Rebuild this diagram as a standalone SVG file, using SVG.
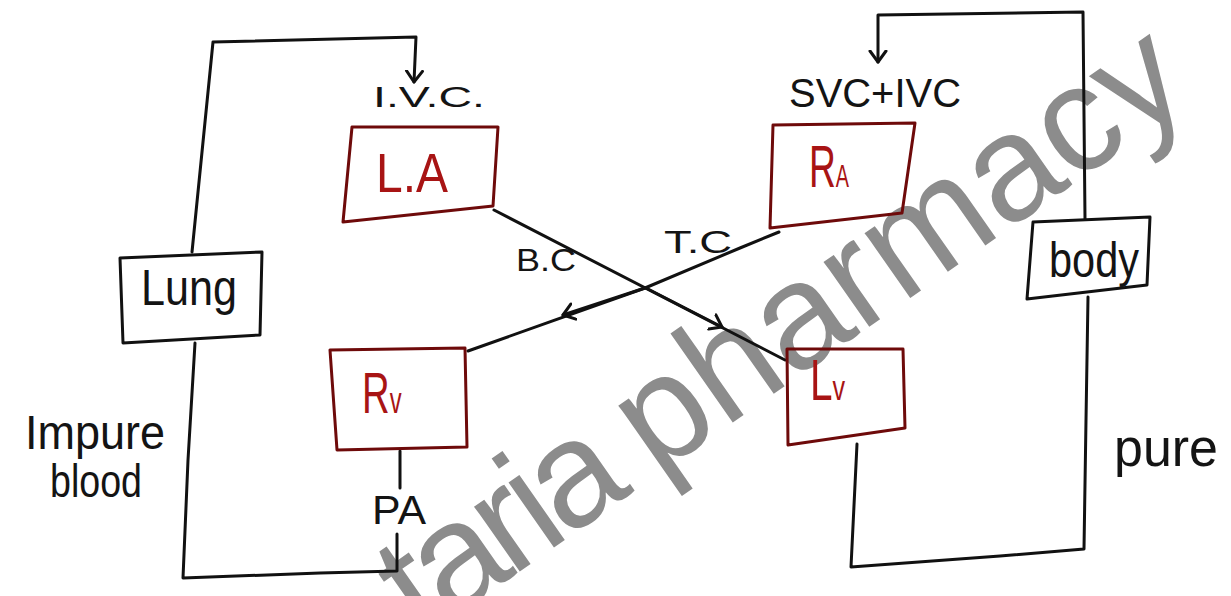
<svg xmlns="http://www.w3.org/2000/svg" width="1231" height="596" viewBox="0 0 1231 596">
  <defs>
    <style>
      .ink { fill: none; stroke: #111; stroke-width: 3; stroke-linecap: round; stroke-linejoin: round; }
      .chamber { fill: none; stroke: #6e0a0a; stroke-width: 3; stroke-linejoin: round; }
      .organ { fill: none; stroke: #111; stroke-width: 3; stroke-linejoin: round; }
      .hand { font-family: "Liberation Sans", "DejaVu Sans", sans-serif; fill: #141414; }
      .red { font-family: "Liberation Sans", "DejaVu Sans", sans-serif; fill: #a81414; }
      .mark { font-family: "Liberation Sans", Arial, sans-serif; fill: #8c8c8c; }
    </style>
    <!-- open V arrowhead, as drawn by pen -->
    <marker id="vhead" viewBox="-12 -10 14 20" markerWidth="14" markerHeight="20" refX="0" refY="0" orient="auto" markerUnits="userSpaceOnUse">
      <path d="M-11,-8 L0,0 L-11,8" fill="none" stroke="#111" stroke-width="3" stroke-linecap="round" stroke-linejoin="round"/>
    </marker>
  </defs>

  <rect width="1231" height="596" fill="#ffffff"/>

  <!-- watermark -->
  <text class="mark" x="422" y="640" font-size="150" transform="rotate(-35 422 640)"><tspan letter-spacing="-8">taria </tspan>pharmacy</text>

  <!-- connectors -->
  <g id="connectors">
    <!-- pulmonary vein: lung up and across into left atrium -->
    <path class="ink" d="M192,252 L213,42 L416,37 L414,82" marker-end="url(#vhead)"/>
    <!-- pulmonary artery: right ventricle down, round to lung -->
    <path class="ink" d="M400,451 L400,488"/>
    <path class="ink" d="M397,534 L397,571 L320,573 L183,578 L188,460 L195,343"/>
    <!-- vena cavae: body up and across into right atrium -->
    <path class="ink" d="M1085,219 L1083,12 L878,15 L878,62" marker-end="url(#vhead)"/>
    <!-- aorta: left ventricle down, round to body -->
    <path class="ink" d="M857,444 L851,567 L1000,556 L1084,549 L1086,420 L1088,297"/>
    <!-- bicuspid: left atrium to left ventricle -->
    <path class="ink" d="M494,210 L785,360"/>
    <path class="ink" d="M646,288 L722,327" marker-end="url(#vhead)"/>
    <!-- tricuspid: right atrium to right ventricle -->
    <path class="ink" d="M779,232 L740,248 L645,288 L468,351"/>
    <path class="ink" d="M645,288 L563,315" marker-end="url(#vhead)"/>
  </g>

  <!-- edge labels -->
  <g id="labels">
    <text class="hand" x="373" y="107" font-size="30" textLength="112" lengthAdjust="spacingAndGlyphs">I.V.C.</text>
    <text class="hand" x="789" y="107" font-size="40" textLength="172" lengthAdjust="spacingAndGlyphs">SVC+IVC</text>
    <text class="hand" x="516" y="271" font-size="32" textLength="60" lengthAdjust="spacingAndGlyphs">B.C</text>
    <text class="hand" x="664" y="253" font-size="32" textLength="68" lengthAdjust="spacingAndGlyphs">T.C</text>
    <text class="hand" x="372" y="524" font-size="40" textLength="54" lengthAdjust="spacingAndGlyphs">PA</text>
    <text class="hand" x="25" y="449" font-size="48" textLength="140" lengthAdjust="spacingAndGlyphs">Impure</text>
    <text class="hand" x="50" y="497" font-size="46" textLength="92" lengthAdjust="spacingAndGlyphs">blood</text>
    <text class="hand" x="1114" y="466" font-size="54" textLength="104" lengthAdjust="spacingAndGlyphs">pure</text>
  </g>

  <!-- nodes -->
  <g id="LA">
    <path class="chamber" d="M352,127 L498,127 L493,206 L343,222 Z"/>
    <text class="red" x="376" y="192" font-size="55" textLength="72" lengthAdjust="spacingAndGlyphs">L.A</text>
  </g>
  <g id="RA">
    <path class="chamber" d="M773,125 L915,123 L902,213 L770,228 Z"/>
    <text class="red" font-size="60" transform="translate(809 187) scale(0.62 1)">R<tspan font-size="32">A</tspan></text>
  </g>
  <g id="RV">
    <path class="chamber" d="M330,350 L465,348 L467,447 L337,450 Z"/>
    <text class="red" font-size="58" transform="translate(362 413) scale(0.66 1)">R<tspan font-size="36">v</tspan></text>
  </g>
  <g id="LV">
    <path class="chamber" d="M787,349 L903,349 L905,428 L788,445 Z"/>
    <text class="red" font-size="58" transform="translate(810 400) scale(0.7 1)">L<tspan font-size="36">v</tspan></text>
  </g>
  <g id="Lung">
    <path class="organ" d="M120,258 L262,252 L260,335 L123,343 Z"/>
    <text class="hand" x="141" y="305" font-size="50" textLength="96" lengthAdjust="spacingAndGlyphs">Lung</text>
  </g>
  <g id="body">
    <path class="organ" d="M1033,222 L1150,217 L1147,285 L1027,299 Z"/>
    <text class="hand" x="1049" y="277" font-size="50" textLength="90" lengthAdjust="spacingAndGlyphs">body</text>
  </g>
</svg>
